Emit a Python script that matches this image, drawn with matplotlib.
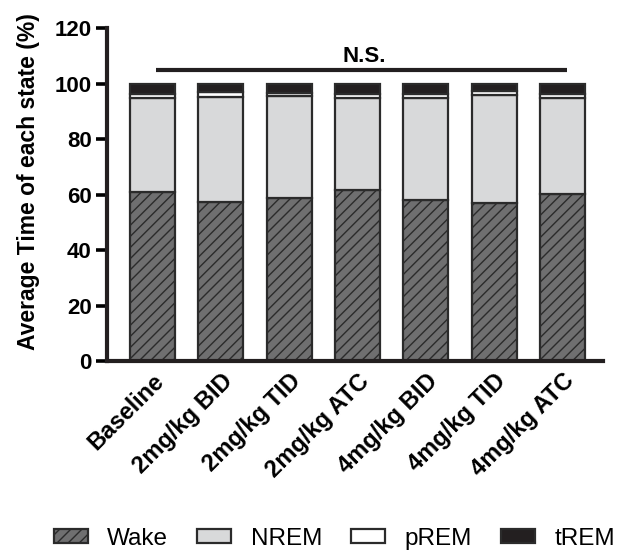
import matplotlib
matplotlib.use("Agg")
import matplotlib.pyplot as plt
import numpy as np

plt.rcParams['font.family'] = ['Liberation Sans', 'DejaVu Sans']
plt.rcParams['hatch.linewidth'] = 1.0
plt.rcParams['hatch.color'] = '#231f20'

groups = ['Baseline', '2mg/kg BID', '2mg/kg TID', '2mg/kg ATC',
          '4mg/kg BID', '4mg/kg TID', '4mg/kg ATC']
wake = np.array([61.0, 57.3, 58.8, 61.5, 58.2, 57.0, 60.2])
nrem = np.array([33.8, 38.0, 36.7, 33.5, 36.8, 38.8, 34.8])
prem = np.array([1.6, 1.7, 1.1, 1.4, 1.4, 1.5, 1.4])
trem = 100 - wake - nrem - prem

states = ['Wake', 'NREM', 'pREM', 'tREM']
fills = ['#6f6f70', '#d8d9da', 'white', '#231f20']
hatches = ['///', None, None, None]

fig = plt.figure(figsize=(6.22, 5.53), dpi=100)
ax = fig.add_axes([0.172, 0.347, 0.797, 0.602])

x = np.arange(len(groups))
bottom = np.zeros(len(groups))
for vals, name, fc, h in zip([wake, nrem, prem, trem], states, fills, hatches):
    ax.bar(x, vals, width=0.66, bottom=bottom, color=fc, edgecolor='#2b2b2b',
           linewidth=1.6, hatch=h, label=name, zorder=2)
    bottom += vals

ax.set_ylim(0, 120)
ax.set_yticks(np.arange(0, 121, 20))
ax.set_xlim(-0.665, 6.59)
ax.set_xticks(x)
ax.set_xticklabels(groups, rotation=45, ha='right', rotation_mode='anchor',
                   fontsize=17, fontweight='bold')
for lab in ax.get_yticklabels():
    lab.set_fontsize(16)
    lab.set_fontweight('bold')
ax.tick_params(axis='y', length=8, width=2.6, pad=3)
ax.tick_params(axis='x', length=0, pad=6)
for s in ['top', 'right']:
    ax.spines[s].set_visible(False)
for s in ['left', 'bottom']:
    ax.spines[s].set_linewidth(3)
    ax.spines[s].set_color('#231f20')

ax.set_ylabel('Average Time of each state (%)', fontsize=16.5, fontweight='bold')
ax.yaxis.set_label_coords(-0.135, 0.54)

# significance bar across all groups
ax.plot([0.05, 6.06], [104.8, 104.8], color='#231f20', lw=3,
        solid_capstyle='butt', clip_on=False)
ax.text(3.1, 107.9, 'N.S.', ha='center', va='baseline', fontsize=16,
        fontweight='bold')

fig.legend(loc='center', bbox_to_anchor=(0.538, 0.026), ncol=4,
           frameon=False, fontsize=17.5, handlelength=1.4, handleheight=0.55,
           columnspacing=1.2, handletextpad=0.8, borderpad=0, borderaxespad=0)

fig.savefig('out.png', dpi=100)
